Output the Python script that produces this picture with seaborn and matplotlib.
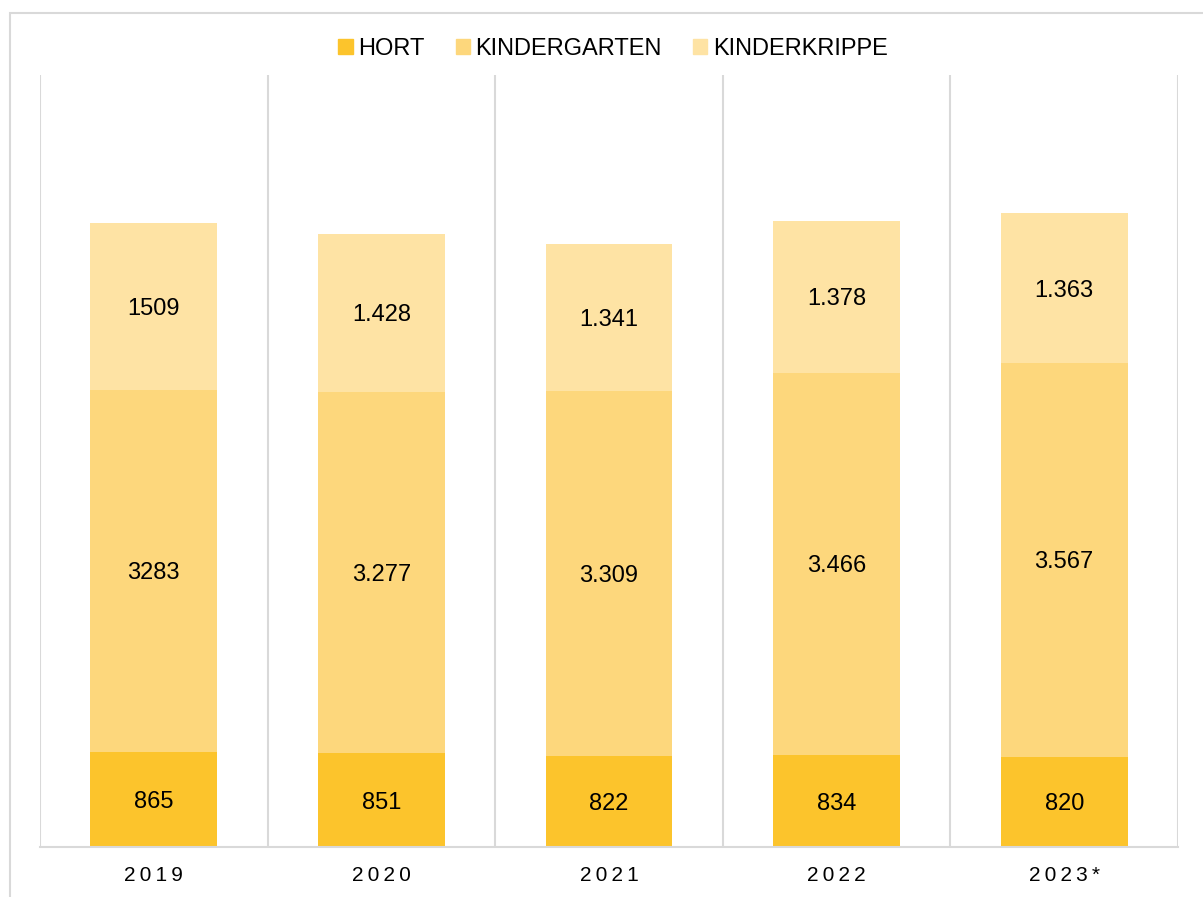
import numpy as np
import pandas as pd
import seaborn as sns
import matplotlib.pyplot as plt
from matplotlib.patches import Rectangle, Patch

# Daten
jahre = ["2019", "2020", "2021", "2022", "2023*"]
hort = [865, 851, 822, 834, 820]
kindergarten = [3283, 3277, 3309, 3466, 3567]
kinderkrippe = [1509, 1428, 1341, 1378, 1363]
label_hort = ["865", "851", "822", "834", "820"]
label_kiga = ["3283", "3.277", "3.309", "3.466", "3.567"]
label_krippe = ["1509", "1.428", "1.341", "1.378", "1.363"]

farben = {"HORT": "#FCC42C", "KINDERGARTEN": "#FDD77C", "KINDERKRIPPE": "#FEE3A4"}

sns.set_style("white")
plt.rcParams['font.family'] = ['Liberation Sans', 'DejaVu Sans']

df = pd.DataFrame({"jahr": jahre, "hort": hort, "kiga": kindergarten, "krippe": kinderkrippe})
df["s1"] = df["hort"]
df["s2"] = df["hort"] + df["kiga"]
df["s3"] = df["s2"] + df["krippe"]

fig = plt.figure(figsize=(12.03, 8.97), dpi=100)
ax = fig.add_axes([40 / 1203, 1 - 847 / 897, 1138 / 1203, 772 / 897])

# gestapelte Balken: Summen von oben nach unten überlagern
for spalte, key in [("s3", "KINDERKRIPPE"), ("s2", "KINDERGARTEN"), ("s1", "HORT")]:
    sns.barplot(data=df, x="jahr", y=spalte, color=farben[key], width=0.557,
                saturation=1, linewidth=0, ax=ax)

for i in range(len(jahre)):
    ax.text(i, df["s1"][i] / 2, label_hort[i], ha="center", va="center_baseline", fontsize=17, color="black")
    ax.text(i, df["s1"][i] + df["kiga"][i] / 2, label_kiga[i], ha="center", va="center_baseline", fontsize=17, color="black")
    ax.text(i, df["s2"][i] + df["krippe"][i] / 2, label_krippe[i], ha="center", va="center_baseline", fontsize=17, color="black")

ax.set_ylim(0, 7000)
ax.set_xlim(-0.5, len(jahre) - 0.5)
ax.set_yticks([])
ax.set_xlabel("")
ax.set_ylabel("")
ax.set_xticks(range(len(jahre)))
ax.set_xticklabels(["\u2009".join(j) for j in jahre], fontsize=15, color="black")
ax.tick_params(axis="x", length=0, pad=14)
ax.set_xticks(np.arange(-0.5, len(jahre)), minor=True)
ax.tick_params(axis="x", which="minor", length=0)
ax.grid(which="minor", axis="x", color="#D9D9D9", linewidth=1.5)
ax.set_axisbelow(True)
for s in ["top", "left", "right"]:
    ax.spines[s].set_visible(False)
ax.spines["bottom"].set_color("#D9D9D9")
ax.spines["bottom"].set_linewidth(1.5)

handles = [Patch(color=c, label=k) for k, c in farben.items()]
fig.legend(handles=handles, loc="center", bbox_to_anchor=(613 / 1203, 1 - 49 / 897), ncol=3,
           frameon=False, fontsize=17, handlelength=0.6, handleheight=0.6, handletextpad=0.25,
           columnspacing=1.3, labelcolor="black")

# Rahmen um das Diagramm
fig.patches.append(Rectangle((10 / 1203, -0.05), 1.2, 1 - 13 / 897 + 0.05, transform=fig.transFigure,
                             fill=False, edgecolor="#D9D9D9", linewidth=1.5))

fig.savefig("out.png", dpi=100)
